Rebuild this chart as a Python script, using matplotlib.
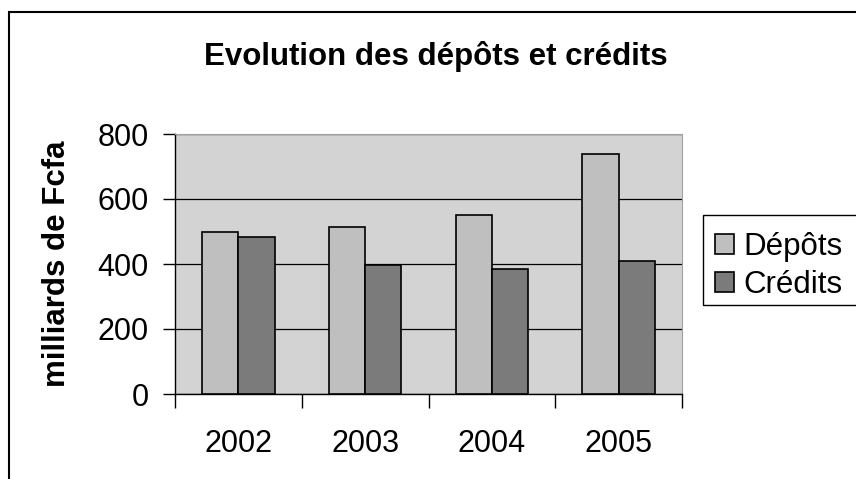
import numpy as np
import matplotlib.pyplot as plt
from matplotlib.patches import Rectangle

plt.rcParams['font.family'] = ['Liberation Sans', 'DejaVu Sans']

annees = ['2002', '2003', '2004', '2005']
depots = [497, 515, 552, 738]
credits = [484, 398, 386, 409]
series = ['Dépôts', 'Crédits']

W, H = 856, 479
fig = plt.figure(figsize=(W / 100, H / 100), dpi=100)

# cadre extérieur du graphique (déborde à droite et en bas)
fig.patches.append(Rectangle((8.5 / W, -0.1), 1.2, 1 - 12.5 / H + 0.1,
                             transform=fig.transFigure, fill=False,
                             edgecolor='black', linewidth=1.5))

ax = fig.add_axes([175 / W, 1 - 394 / H, 507 / W, 260 / H])
ax.set_facecolor('#d3d3d3')

x = np.arange(len(annees))
w = 1 / 3.5
b1 = ax.bar(x - w / 2, depots, w, color='#bfbfbf', edgecolor='black',
            linewidth=1.2, label=series[0], zorder=3)
b2 = ax.bar(x + w / 2, credits, w, color='#7b7b7b', edgecolor='black',
            linewidth=1.2, label=series[1], zorder=3)

ax.set_xlim(-0.5, len(annees) - 0.5)
ax.set_ylim(0, 800)
ax.set_yticks([0, 200, 400, 600, 800])
ax.yaxis.grid(True, color='black', linewidth=0.9, zorder=1)
ax.set_axisbelow(True)

ax.set_xticks(np.arange(len(annees) + 1) - 0.5)
ax.set_xticklabels([])
ax.set_xticks(x, minor=True)
ax.set_xticklabels(annees, minor=True)
ax.tick_params(axis='x', which='major', direction='out', length=10, width=1)
ax.tick_params(axis='x', which='minor', length=0, pad=25, labelsize=22)
ax.tick_params(axis='y', direction='out', length=9, width=1, pad=10, labelsize=22)

for s in ['top', 'right']:
    ax.spines[s].set_color('#a0a0a0')
for s in ['left', 'bottom']:
    ax.spines[s].set_color('black')
    ax.spines[s].set_linewidth(1)

ax.set_ylabel('milliards de Fcfa', fontsize=22.5, fontweight='bold')
ax.yaxis.set_label_coords(-0.203, 0.5)

fig.text(436 / W, 1 - 56 / H, 'Evolution des dépôts et crédits',
         fontsize=22.5, fontweight='bold', ha='center', va='center')

# légende
fig.patches.append(Rectangle((703 / W, 1 - 305 / H), 0.5, 90 / H,
                             transform=fig.transFigure, fill=False,
                             edgecolor='black', linewidth=1))
fig.legend(handles=[b1, b2], labels=series, loc='upper left',
           bbox_to_anchor=(715 / W, 1 - 232 / H), frameon=False,
           fontsize=22.5, handlelength=0.6, handleheight=0.6,
           handletextpad=0.3, labelspacing=0.25, borderpad=0, borderaxespad=0)

fig.savefig('out.png', dpi=100, facecolor='white')
